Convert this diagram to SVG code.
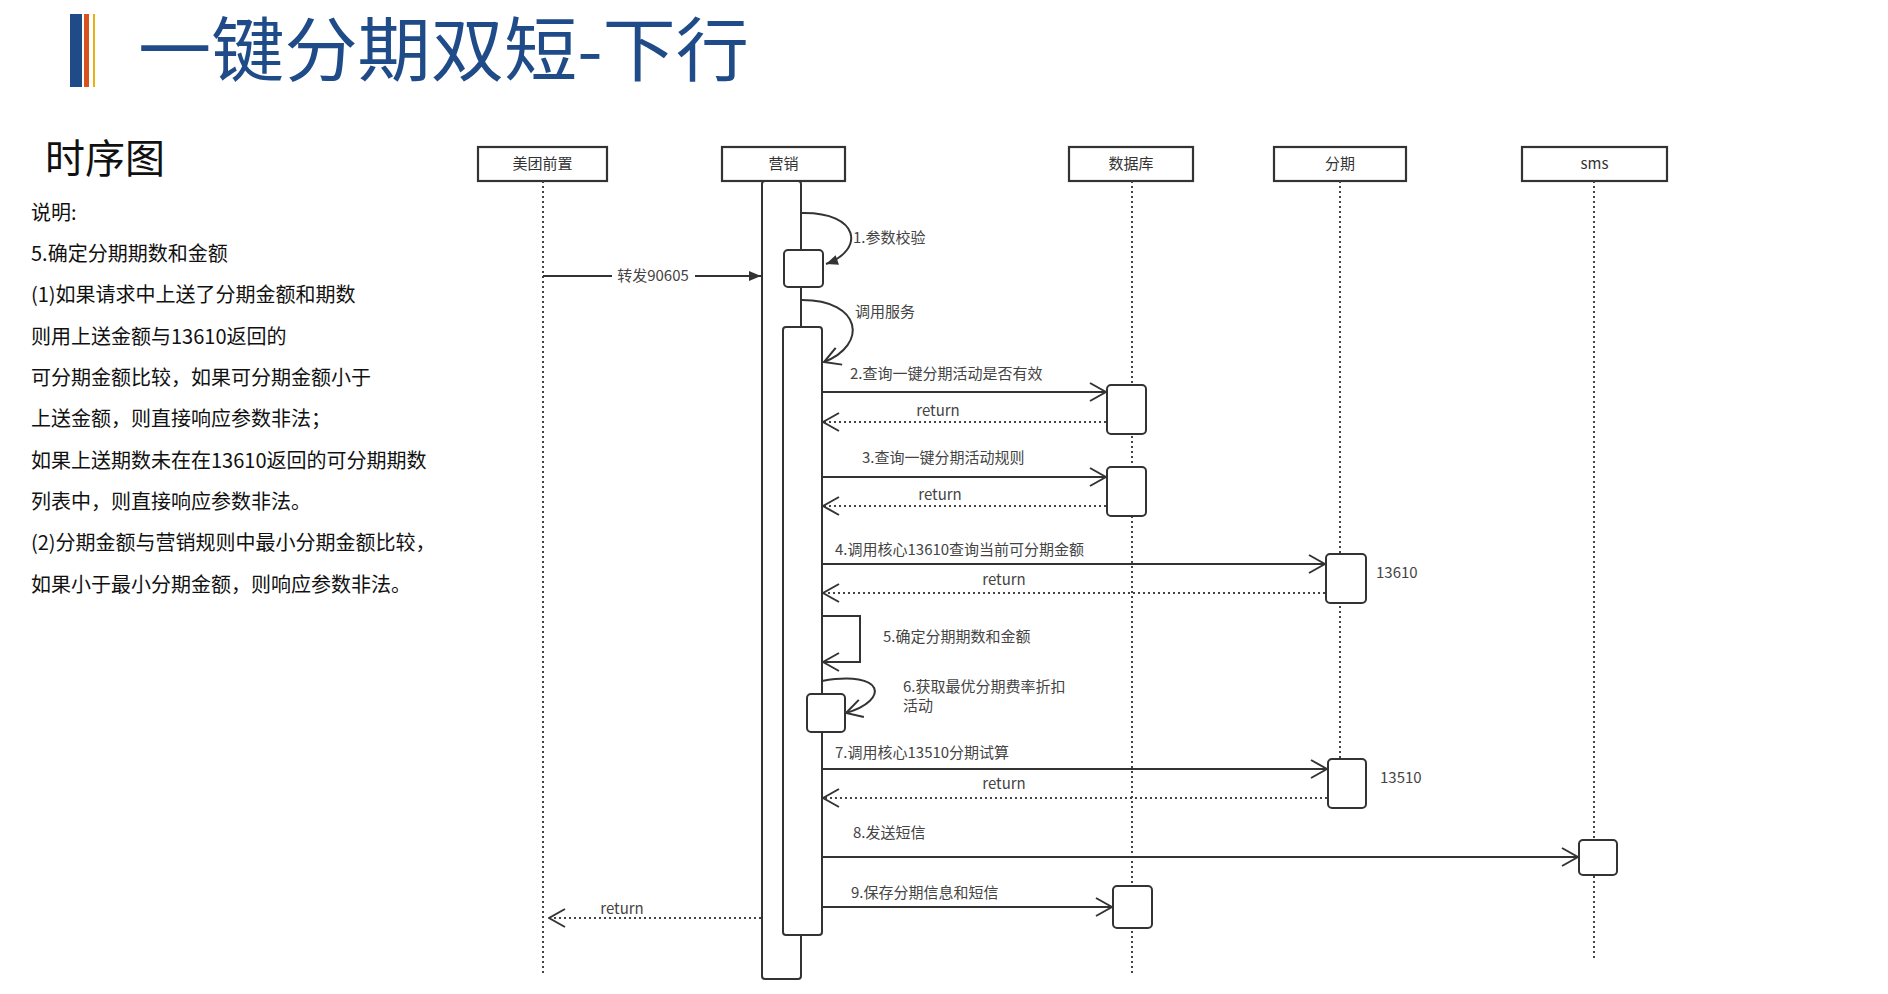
<svg xmlns="http://www.w3.org/2000/svg" width="1888" height="994" viewBox="0 0 1888 994">
<style>
.title{font-family:"Noto Sans CJK SC","Noto Sans",sans-serif;font-size:70px;fill:#1f4c89;font-weight:400}
.h2{font-family:"Noto Sans CJK SC","Noto Sans",sans-serif;font-size:40px;fill:#111}
.desc{font-family:"Noto Sans CJK SC","Noto Sans",sans-serif;font-size:20px;fill:#111}
.hdr{fill:#fff;stroke:#333;stroke-width:2.2}
.hdrt{font-family:"Noto Sans CJK SC","Noto Sans",sans-serif;font-size:15px;fill:#333;text-anchor:middle}
.life{stroke:#444;stroke-width:2;stroke-dasharray:2 3;fill:none}
.act{fill:#fff;stroke:#333;stroke-width:2}
.msg{stroke:#333;stroke-width:2;fill:none}
.ret{stroke:#444;stroke-width:2;stroke-dasharray:2 3;fill:none}
.lbl{font-family:"Noto Sans CJK SC","Noto Sans",sans-serif;font-size:15px;fill:#444}
.lblc{font-family:"Noto Sans CJK SC","Noto Sans",sans-serif;font-size:15px;fill:#444;text-anchor:middle}
</style>
<defs>
<marker id="fillArrow" viewBox="0 0 12 12" refX="12" refY="6" markerWidth="13" markerHeight="12" markerUnits="userSpaceOnUse" orient="auto"><path d="M0,1 L12,6 L0,11 z" fill="#333"/></marker>
<marker id="openArrow" viewBox="0 0 18 20" refX="17" refY="10" markerWidth="18" markerHeight="20" markerUnits="userSpaceOnUse" orient="auto"><path d="M1,1 L17,10 L1,19" fill="none" stroke="#333" stroke-width="2"/></marker>
</defs>
<rect width="1888" height="994" fill="#fff"/>

<g id="title">
<rect x="70" y="14" width="12" height="73" fill="#1f4c89"/>
<rect x="84" y="14" width="5" height="73" fill="#d9531e"/>
<rect x="93" y="14" width="2" height="73" fill="#e8b010"/>
<text class="title" x="138" y="76" textLength="611" lengthAdjust="spacingAndGlyphs">一键分期双短-下行</text>
</g>

<g id="description">
<text class="h2" x="45" y="173">时序图</text>
<text class="desc" x="31" y="220">说明:</text>
<text class="desc" x="31" y="261">5.确定分期期数和金额</text>
<text class="desc" x="31" y="302">(1)如果请求中上送了分期金额和期数</text>
<text class="desc" x="31" y="344">则用上送金额与13610返回的</text>
<text class="desc" x="31" y="385">可分期金额比较，如果可分期金额小于</text>
<text class="desc" x="31" y="426">上送金额，则直接响应参数非法；</text>
<text class="desc" x="31" y="468">如果上送期数未在在13610返回的可分期期数</text>
<text class="desc" x="31" y="509">列表中，则直接响应参数非法。</text>
<text class="desc" x="31" y="550">(2)分期金额与营销规则中最小分期金额比较，</text>
<text class="desc" x="31" y="592">如果小于最小分期金额，则响应参数非法。</text>
</g>

<g id="node-meituan">
<rect class="hdr" x="478" y="147" width="129" height="34"/>
<text class="hdrt" x="542.5" y="169">美团前置</text>
<line class="life" x1="543" y1="181" x2="543" y2="973"/>
</g>

<g id="node-yingxiao">
<rect class="hdr" x="722" y="147" width="123" height="34"/>
<text class="hdrt" x="783.5" y="169">营销</text>
<rect class="act" x="762" y="181" width="39" height="798" rx="3"/>
<rect class="act" x="783" y="327" width="39" height="608" rx="3"/>
<rect class="act" x="784" y="250" width="39" height="37" rx="4"/>
<rect class="act" x="807" y="694" width="38" height="38" rx="4"/>
</g>

<g id="node-db">
<rect class="hdr" x="1069" y="147" width="124" height="34"/>
<text class="hdrt" x="1131" y="169">数据库</text>
<line class="life" x1="1132" y1="181" x2="1132" y2="975"/>
<rect class="act" x="1107" y="385" width="39" height="49" rx="4"/>
<rect class="act" x="1107" y="467" width="39" height="49" rx="4"/>
<rect class="act" x="1113" y="886" width="39" height="42" rx="4"/>
</g>

<g id="node-fenqi">
<rect class="hdr" x="1274" y="147" width="132" height="34"/>
<text class="hdrt" x="1340" y="169">分期</text>
<line class="life" x1="1340" y1="181" x2="1340" y2="808"/>
<rect class="act" x="1326" y="554" width="40" height="49" rx="4"/>
<rect class="act" x="1328" y="759" width="38" height="49" rx="4"/>
<text class="lbl" x="1376" y="578">13610</text>
<text class="lbl" x="1380" y="783">13510</text>
</g>

<g id="node-sms">
<rect class="hdr" x="1522" y="147" width="145" height="34"/>
<text class="hdrt" x="1594.5" y="169">sms</text>
<line class="life" x1="1594" y1="181" x2="1594" y2="960"/>
<rect class="act" x="1579" y="840" width="38" height="35" rx="4"/>
</g>

<g id="connectors">
<path class="msg" d="M802,213 C860,212 865,250 826,264" marker-end="url(#fillArrow)"/>
<text class="lbl" x="853" y="243">1.参数校验</text>

<line class="msg" x1="543" y1="276" x2="761" y2="276" marker-end="url(#fillArrow)"/>
<rect x="612" y="266" width="83" height="20" fill="#fff"/>
<text class="lblc" x="653" y="281">转发90605</text>

<path class="msg" d="M802,300 C862,300 868,345 824,362" marker-end="url(#openArrow)"/>
<text class="lbl" x="855" y="317">调用服务</text>

<line class="msg" x1="822" y1="392" x2="1106" y2="392" marker-end="url(#openArrow)"/>
<text class="lbl" x="850" y="379">2.查询一键分期活动是否有效</text>
<line class="ret" x1="1106" y1="422" x2="823" y2="422" marker-end="url(#openArrow)"/>
<text class="lblc" x="938" y="416">return</text>

<line class="msg" x1="822" y1="477" x2="1106" y2="477" marker-end="url(#openArrow)"/>
<text class="lbl" x="862" y="463">3.查询一键分期活动规则</text>
<line class="ret" x1="1106" y1="506" x2="823" y2="506" marker-end="url(#openArrow)"/>
<text class="lblc" x="940" y="500">return</text>

<line class="msg" x1="822" y1="564" x2="1325" y2="564" marker-end="url(#openArrow)"/>
<text class="lbl" x="835" y="555">4.调用核心13610查询当前可分期金额</text>
<line class="ret" x1="1325" y1="593" x2="823" y2="593" marker-end="url(#openArrow)"/>
<text class="lblc" x="1004" y="585">return</text>

<path class="msg" d="M822,616 H860 V662 H823" marker-end="url(#openArrow)"/>
<text class="lbl" x="883" y="642">5.确定分期期数和金额</text>

<path class="msg" d="M822,681 C885,670 890,700 846,713" marker-end="url(#openArrow)"/>
<text class="lbl" x="903" y="692">6.获取最优分期费率折扣</text>
<text class="lbl" x="903" y="711">活动</text>

<line class="msg" x1="822" y1="769" x2="1327" y2="769" marker-end="url(#openArrow)"/>
<text class="lbl" x="835" y="758">7.调用核心13510分期试算</text>
<line class="ret" x1="1327" y1="798" x2="823" y2="798" marker-end="url(#openArrow)"/>
<text class="lblc" x="1004" y="789">return</text>

<line class="msg" x1="822" y1="857" x2="1578" y2="857" marker-end="url(#openArrow)"/>
<text class="lbl" x="853" y="838">8.发送短信</text>

<line class="msg" x1="822" y1="907" x2="1112" y2="907" marker-end="url(#openArrow)"/>
<text class="lbl" x="851" y="898">9.保存分期信息和短信</text>

<line class="ret" x1="761" y1="918" x2="549" y2="918" marker-end="url(#openArrow)"/>
<text class="lblc" x="622" y="914">return</text>
</g>
</svg>
